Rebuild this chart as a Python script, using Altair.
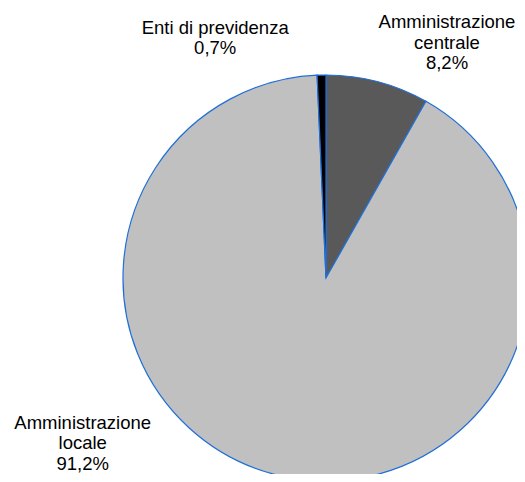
import altair as alt
import pandas as pd

categories = ["Amministrazione centrale", "Amministrazione locale", "Enti di previdenza"]
labels = ["Amministrazione\ncentrale\n8,2%", "Amministrazione\nlocale\n91,2%", "Enti di previdenza\n0,7%"]
values = [8.2, 91.2, 0.7]
order = [0, 1, 2]
colors = ["#595959", "#c0c0c0", "#000000"]

df = pd.DataFrame({"cat": categories, "label": labels, "value": values, "ord": order})

CX, CY, R = 318, 270, 203

base = alt.Chart(df).encode(
    theta=alt.Theta("value:Q", stack=True),
    order=alt.Order("ord:Q"),
)

pie = base.mark_arc(radius=R, stroke="#1f6fd8", strokeWidth=1.2, x=CX, y=CY).encode(
    color=alt.Color("cat:N", scale=alt.Scale(domain=categories, range=colors), legend=None)
)

offsets = {
    "Amministrazione centrale": (65, -37),
    "Amministrazione locale": (-192, -63),
    "Enti di previdenza": (-106, -24),
}

texts = []
for cat in categories:
    dx, dy = offsets[cat]
    t = base.mark_text(
        radius=220, x=CX, y=CY, dx=dx, dy=dy,
        font="Liberation Sans", fontSize=18.5, lineHeight=20.3,
        lineBreak="\n", align="center", baseline="alphabetic", color="#000000",
    ).encode(
        text="label:N",
        opacity=alt.condition(alt.datum.cat == cat, alt.value(1), alt.value(0)),
    )
    texts.append(t)

chart = alt.layer(pie, *texts).properties(
    width=509, height=466,
    autosize=alt.AutoSizeParams(type="none"),
    padding=0,
).configure_view(stroke=None)

chart.save("out.html", embed_options={"renderer": "svg", "actions": False})
